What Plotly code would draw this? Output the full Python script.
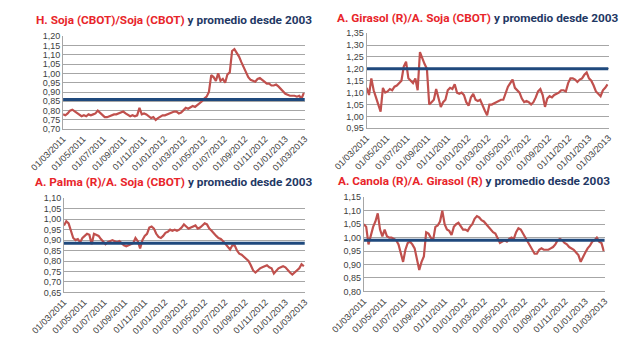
import pandas as pd
import plotly.graph_objects as go

# Weekly dates (first date and count)
start_date = "2011-03-01"
n_weeks = 105
dates = pd.date_range(start_date, periods=n_weeks, freq="7D")

tick_dates = ["2011-03-01", "2011-05-01", "2011-07-01", "2011-09-01", "2011-11-01",
              "2012-01-01", "2012-03-01", "2012-05-01", "2012-07-01", "2012-09-01",
              "2012-11-01", "2013-01-01", "2013-03-01"]
tick_labels = ["01/03/2011", "01/05/2011", "01/07/2011", "01/09/2011", "01/11/2011",
               "01/01/2012", "01/03/2012", "01/05/2012", "01/07/2012", "01/09/2012",
               "01/11/2012", "01/01/2013", "01/03/2013"]

# Panel 1: H. Soja (CBOT)/Soja (CBOT)
hsoja_soja = [0.78, 0.775, 0.785, 0.80, 0.805, 0.795, 0.785, 0.775, 0.77, 0.775,
              0.77, 0.78, 0.775, 0.78, 0.785, 0.80, 0.79, 0.775, 0.765, 0.765,
              0.77, 0.775, 0.78, 0.78, 0.785, 0.79, 0.795, 0.785, 0.775, 0.77,
              0.775, 0.77, 0.775, 0.815, 0.78, 0.785, 0.78, 0.77, 0.76, 0.765,
              0.75, 0.76, 0.77, 0.775, 0.775, 0.78, 0.785, 0.79, 0.795, 0.795,
              0.785, 0.79, 0.80, 0.815, 0.81, 0.82, 0.825, 0.82, 0.83, 0.835,
              0.85, 0.865, 0.875, 0.90, 0.99, 0.98, 0.96, 1.00, 0.96, 0.97,
              0.95, 0.995, 1.005, 1.12, 1.13, 1.11, 1.09, 1.06, 1.03, 1.00,
              0.98, 0.965, 0.96, 0.955, 0.97, 0.975, 0.965, 0.955, 0.945, 0.945,
              0.935, 0.935, 0.94, 0.93, 0.915, 0.905, 0.89, 0.885, 0.88, 0.88,
              0.88, 0.875, 0.88, 0.865, 0.895]
hsoja_avg = 0.86

# Panel 2: A. Girasol (R)/A. Soja (CBOT)
girasol_soja = [1.12, 1.09, 1.16, 1.11, 1.08, 1.05, 1.02, 1.12, 1.10, 1.105,
                1.115, 1.11, 1.125, 1.13, 1.14, 1.15, 1.21, 1.23, 1.16, 1.15,
                1.14, 1.16, 1.11, 1.27, 1.24, 1.22, 1.20, 1.05, 1.06, 1.07,
                1.115, 1.08, 1.04, 1.06, 1.07, 1.11, 1.12, 1.115, 1.135, 1.10,
                1.095, 1.10, 1.09, 1.06, 1.045, 1.08, 1.095, 1.07, 1.065, 1.07,
                1.045, 1.025, 1.005, 1.05, 1.05, 1.055, 1.06, 1.065, 1.07, 1.07,
                1.10, 1.125, 1.14, 1.155, 1.12, 1.11, 1.10, 1.075, 1.06, 1.065,
                1.06, 1.05, 1.06, 1.08, 1.105, 1.115, 1.09, 1.04, 1.075, 1.085,
                1.08, 1.09, 1.095, 1.10, 1.11, 1.11, 1.105, 1.14, 1.16, 1.16,
                1.155, 1.145, 1.155, 1.16, 1.175, 1.185, 1.16, 1.15, 1.13, 1.105,
                1.095, 1.085, 1.11, 1.12, 1.135]
girasol_avg = 1.20

# Panel 3: A. Palma (R)/A. Soja (CBOT)
palma_soja = [0.97, 0.99, 0.98, 0.94, 0.91, 0.90, 0.905, 0.89, 0.91, 0.92,
              0.93, 0.925, 0.88, 0.93, 0.925, 0.92, 0.905, 0.89, 0.88, 0.89,
              0.895, 0.90, 0.895, 0.89, 0.895, 0.885, 0.875, 0.87, 0.875, 0.88,
              0.885, 0.91, 0.895, 0.86, 0.90, 0.92, 0.93, 0.96, 0.965, 0.955,
              0.93, 0.915, 0.91, 0.92, 0.935, 0.94, 0.95, 0.945, 0.95, 0.945,
              0.95, 0.96, 0.975, 0.965, 0.955, 0.96, 0.965, 0.97, 0.955, 0.96,
              0.97, 0.98, 0.975, 0.955, 0.945, 0.93, 0.92, 0.91, 0.905, 0.895,
              0.88, 0.865, 0.855, 0.875, 0.875, 0.85, 0.835, 0.83, 0.82, 0.81,
              0.80, 0.78, 0.755, 0.745, 0.755, 0.765, 0.77, 0.775, 0.78, 0.77,
              0.765, 0.74, 0.755, 0.765, 0.77, 0.775, 0.77, 0.755, 0.745, 0.735,
              0.745, 0.755, 0.765, 0.785, 0.775]
palma_avg = 0.885

# Panel 4: A. Canola (R)/A. Girasol (R)
canola_girasol = [1.05, 1.04, 0.975, 1.01, 1.04, 1.06, 1.09, 1.03, 1.005, 1.03,
                  1.005, 1.00, 1.00, 0.995, 0.99, 0.975, 0.945, 0.91, 0.955, 0.98,
                  0.985, 0.975, 0.96, 0.92, 0.88, 0.91, 0.93, 1.02, 1.015, 1.00,
                  0.99, 1.04, 1.045, 1.06, 1.10, 1.05, 1.03, 1.025, 1.01, 1.04,
                  1.05, 1.055, 1.04, 1.03, 1.03, 1.025, 1.04, 1.05, 1.07, 1.08,
                  1.075, 1.065, 1.06, 1.05, 1.04, 1.03, 1.02, 1.015, 1.00, 0.98,
                  0.985, 0.99, 0.985, 0.995, 1.00, 0.995, 1.02, 1.035, 1.03, 1.015,
                  1.005, 0.985, 0.97, 0.955, 0.94, 0.94, 0.955, 0.96, 0.955, 0.955,
                  0.955, 0.96, 0.965, 0.975, 0.99, 0.995, 0.99, 0.98, 0.975, 0.965,
                  0.96, 0.955, 0.945, 0.935, 0.91, 0.93, 0.945, 0.96, 0.97, 0.985,
                  0.99, 1.00, 0.985, 0.98, 0.95]
canola_avg = 0.99

titles_red = ["H. Soja (CBOT)/Soja (CBOT)", "A. Girasol (R)/A. Soja (CBOT)",
              "A. Palma (R)/A. Soja (CBOT)", "A. Canola (R)/A. Girasol (R)"]
title_blue = " y promedio desde 2003"

series = [hsoja_soja, girasol_soja, palma_soja, canola_girasol]
avgs = [hsoja_avg, girasol_avg, palma_avg, canola_avg]
y_ranges = [(0.70, 1.20), (0.95, 1.35), (0.65, 1.10), (0.80, 1.15)]

W, H = 621, 345
# plot area boxes in pixels: (x0, x1, ytop, ybottom)
boxes = [(31, 289, 32, 128), (355, 613, 29, 127), (32, 289, 199, 296), (352, 609, 198, 295)]
title_pos = [(149, 15), (473, 13), (149, 182), (469, 181)]

RED = "#c0504d"
BLUE = "#1f497d"
fig = go.Figure()
for k in range(4):
    xa = "x" if k == 0 else f"x{k+1}"
    ya = "y" if k == 0 else f"y{k+1}"
    fig.add_trace(go.Scatter(x=dates, y=series[k], mode="lines", xaxis=xa, yaxis=ya,
                             line=dict(color=RED, width=2.2), showlegend=False, hoverinfo="skip"))
    fig.add_trace(go.Scatter(x=[tick_dates[0], tick_dates[-1]], y=[avgs[k], avgs[k]],
                             mode="lines", xaxis=xa, yaxis=ya,
                             line=dict(color=BLUE, width=3), showlegend=False, hoverinfo="skip"))
    x0, x1, yt, yb = boxes[k]
    xkey = "xaxis" if k == 0 else f"xaxis{k+1}"
    ykey = "yaxis" if k == 0 else f"yaxis{k+1}"
    fig.update_layout(**{
        xkey: dict(domain=[x0 / W, x1 / W], anchor=ya, type="date",
                   range=[tick_dates[0], tick_dates[-1]],
                   tickvals=tick_dates, ticktext=tick_labels, tickangle=-45,
                   showgrid=False, showline=True, linecolor="#a6a6a6", linewidth=1,
                   ticks="", tickfont=dict(family="Liberation Sans", size=9, color="#404040"),
                   zeroline=False),
        ykey: dict(domain=[1 - yb / H, 1 - yt / H], anchor=xa,
                   range=list(y_ranges[k]), dtick=0.05, tick0=0, tickformat=".2f",
                   showgrid=True, gridcolor="#a6a6a6", gridwidth=1,
                   showline=True, linecolor="#a6a6a6", linewidth=1,
                   ticks="", tickfont=dict(family="Liberation Sans", size=9, color="#404040"),
                   zeroline=False),
    })
    tx, ty = title_pos[k]
    fig.add_annotation(x=tx / W, y=1 - ty / H, xref="paper", yref="paper",
                       xanchor="center", yanchor="middle", showarrow=False,
                       text=f"<b><span style='color:#e8252a'>{titles_red[k]}</span>"
                            f"<span style='color:#1f3864'>{title_blue}</span></b>",
                       font=dict(family="Roboto", size=11.8))

fig.update_layout(width=W, height=H, margin=dict(l=0, r=0, t=0, b=0),
                  paper_bgcolor="white", plot_bgcolor="white", separators=",.")
fig.write_html("out.html")
